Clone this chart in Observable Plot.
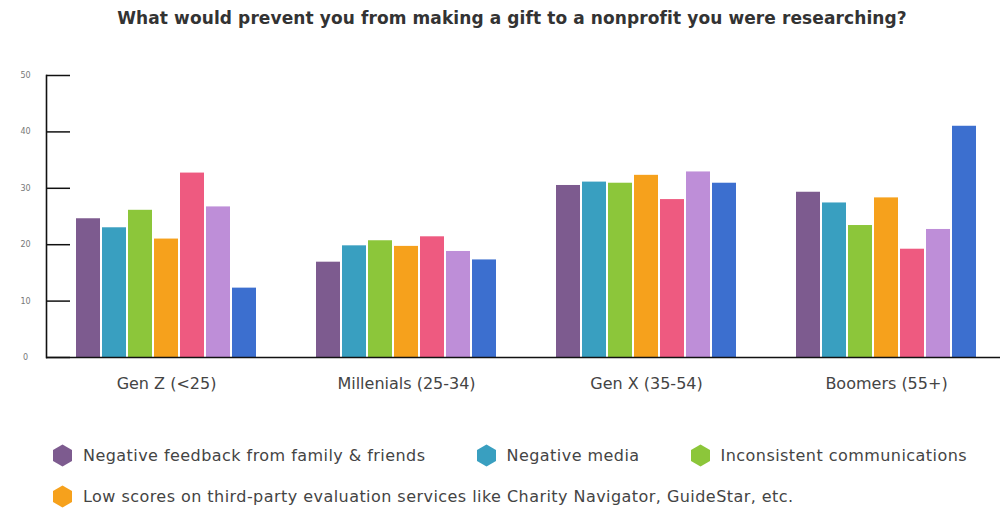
<!DOCTYPE html>
<html><head><meta charset="utf-8">
<script src="https://cdn.jsdelivr.net/npm/d3@7"></script>
<script src="https://cdn.jsdelivr.net/npm/@observablehq/plot@0.6"></script>
<style>
html,body{margin:0;padding:0;background:#fff;overflow:hidden;width:1000px;height:508px}
#title{font-family:"DejaVu Sans",sans-serif;font-weight:700;font-size:17px;letter-spacing:0.1px;line-height:20px;color:#333;text-align:center;padding:8px 0 8px 24px;height:20px;white-space:nowrap}
#chart{height:360px}
#legend{display:flex;flex-wrap:wrap;column-gap:50px;row-gap:17px;padding-left:52px;margin-top:47px;width:940px;font-family:"DejaVu Sans",sans-serif;font-size:16px;letter-spacing:0.45px;color:#444}
.item{display:flex;align-items:center;height:24px;white-space:nowrap}
.item svg{margin-right:10px}
</style></head>
<body>
<div id="title">What would prevent you from making a gift to a nonprofit you were researching?</div>
<div id="chart"></div>
<div id="legend"></div>
<script>
const groups = ["Gen Z (<25)", "Millenials (25-34)", "Gen X (35-54)", "Boomers (55+)"];
const series = [
  "Negative feedback from family & friends",
  "Negative media",
  "Inconsistent communications",
  "Low scores on third-party evaluation services like Charity Navigator, GuideStar, etc.",
  "Reason 5",
  "Reason 6",
  "Reason 7"
];
const colors = ["#7d5b8f", "#399fc0", "#8cc63a", "#f6a11c", "#ee5a80", "#be8ed8", "#3c6fcf"];
const negativeFeedback = [24.6, 16.9, 30.5, 29.3];
const negativeMedia = [23.0, 19.8, 31.1, 27.4];
const inconsistentComms = [26.1, 20.7, 30.9, 23.4];
const lowScores = [21.0, 19.7, 32.3, 28.3];
const reason5 = [32.7, 21.4, 28.0, 19.2];
const reason6 = [26.7, 18.8, 32.9, 22.7];
const reason7 = [12.3, 17.3, 30.9, 41.0];
const values = [negativeFeedback, negativeMedia, inconsistentComms, lowScores, reason5, reason6, reason7];
const yTicks = [0, 10, 20, 30, 40, 50];
const legendCount = 4;

const data = [];
series.forEach((s, i) => groups.forEach((g, j) => data.push({group: g, series: s, value: values[i][j]})));

const chart = Plot.plot({
  width: 1000, height: 360,
  marginLeft: 46, marginRight: -6, marginTop: 39, marginBottom: 39,
  style: {fontFamily: "'DejaVu Sans', sans-serif", background: "#fff"},
  fx: {domain: groups, padding: 0, label: null},
  x: {domain: series, paddingInner: 0.08, paddingOuter: 1, axis: null},
  y: {domain: [0, 50], label: null},
  color: {domain: series, range: colors},
  marks: [
    Plot.barY(data, {fx: "group", x: "series", y: "value", fill: "series"}),
    Plot.ruleY([0], {stroke: "#111", strokeWidth: 1.6}),
    Plot.axisY(yTicks, {tickSize: -24, tickFormat: () => "", stroke: "#111", strokeWidth: 1.5}),
    Plot.axisY(yTicks, {tickSize: 0, tickPadding: 21, textAnchor: "middle", fontSize: 8, fill: "#777"}),
    Plot.frame({anchor: "left", facetAnchor: "left", stroke: "#111", strokeWidth: 1.6}),
    Plot.axisFx({anchor: "bottom", tickSize: 0, tickPadding: 20, fontSize: 16, fill: "#444", label: null})
  ]
});
document.getElementById("chart").appendChild(chart);

const legend = document.getElementById("legend");
series.slice(0, legendCount).forEach((s, i) => {
  const item = document.createElement("div");
  item.className = "item";
  item.innerHTML = `<svg width="21" height="23" viewBox="0 0 21 23"><polygon points="10.5,0.5 20,6 20,17 10.5,22.5 1,17 1,6" fill="${colors[i]}"/></svg><span></span>`;
  item.querySelector("span").textContent = s;
  legend.appendChild(item);
});
</script>
</body></html>
